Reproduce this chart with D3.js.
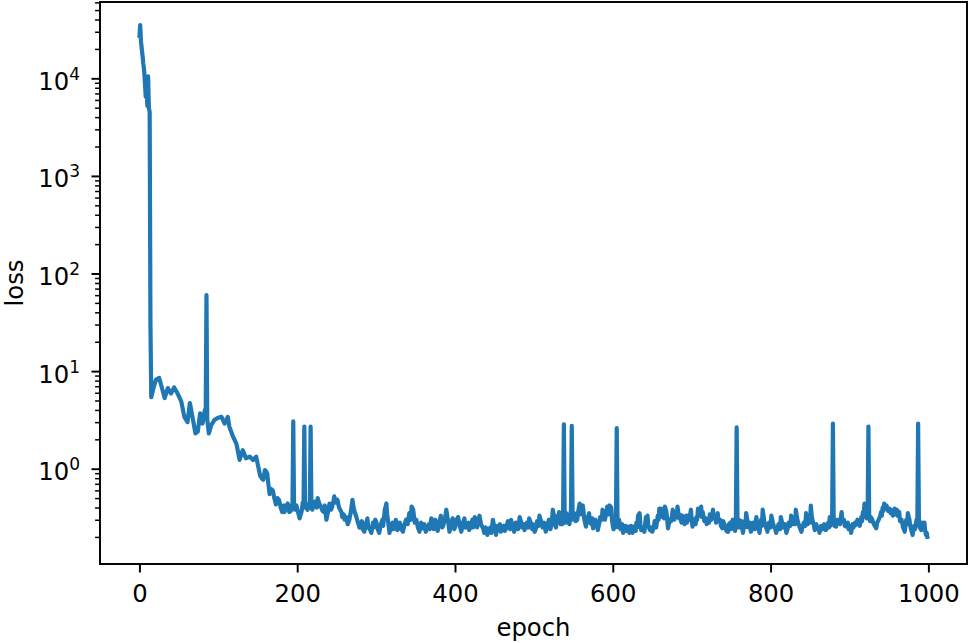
<!DOCTYPE html>
<html>
<head>
<meta charset="utf-8">
<script src="https://cdn.jsdelivr.net/npm/d3@7"></script>
<style>
	body { margin: 0; background: #fff; }
	svg { display: block; font-family: 'DejaVu Sans', sans-serif; }
</style>
</head>
<body>
<div id="divChart"></div>
<script>
'use strict';

const canvasWidth = 969;
const canvasHeight = 643;

// first epochs, loss falls from ~3e4 to ~5
const warmupLoss = [
	[0, 26000], [1, 35000], [2, 24000], [3, 20000], [4, 17000], [5, 14000], [6, 12000], [7, 9000],
	[8, 6500], [9, 10000], [10, 5200], [11, 10500], [12, 5000], [13, 4500], [14, 30], [15, 5.4]
];

// slow decay, with one big spike at epoch 85
const decayLoss = [
	[18, 6.8], [21, 8.2], [25, 8.5], [28, 7.0], [32, 5.3], [36, 6.7], [40, 5.9], [44, 6.8], [48, 6.0], [53, 4.9],
	[57, 3.4], [61, 3.0], [64, 4.7], [68, 3.15], [71, 2.3], [74, 2.4], [77, 3.7], [80, 2.9], [83, 4.0], [84, 3.5],
	[85, 60], [86, 3.2], [88, 2.3], [91, 2.8], [95, 3.15], [99, 3.3], [104, 3.4], [108, 2.9], [112, 3.4], [114, 2.7],
	[118, 2.2], [123, 1.8], [127, 1.23], [131, 1.55], [135, 1.28], [140, 1.33], [144, 1.23], [148, 1.33], [152, 0.93], [153, 0.85],
	[155, 0.8], [157, 0.77], [159, 0.97], [161, 0.93], [162, 0.9], [163, 0.75], [165, 0.55], [167, 0.62], [169, 0.6], [171, 0.5],
	[173, 0.43], [175, 0.5], [177, 0.48], [179, 0.4], [181, 0.36], [183, 0.42], [184, 0.36], [186, 0.41], [188, 0.44], [190, 0.36],
	[192, 0.37], [193, 0.42], [194, 0.4], [195, 3.05], [196, 0.42], [197, 0.38], [199, 0.42], [201, 0.36], [203, 0.31], [205, 0.35],
	[206, 0.38], [207, 0.45], [208, 0.4], [209, 2.7], [210, 0.45], [211, 0.4], [213, 0.38], [215, 0.44], [216, 0.4], [217, 2.7],
	[218, 0.42], [219, 0.38], [220, 0.4], [222, 0.46], [223, 0.45], [225, 0.4], [226, 0.5], [228, 0.44], [230, 0.41], [232, 0.37],
	[234, 0.36], [235, 0.42], [237, 0.30], [239, 0.36], [241, 0.44], [243, 0.38], [244, 0.4], [246, 0.47], [247, 0.52], [249, 0.45],
	[251, 0.48], [253, 0.4], [256, 0.36], [257, 0.32], [259, 0.34], [260, 0.3], [262, 0.32], [264, 0.27], [266, 0.30], [268, 0.36],
	[270, 0.48], [272, 0.38], [275, 0.32], [277, 0.28], [279, 0.25]
];

// noisy plateau around 0.2-0.4 with short spikes
const plateauLoss = [
	[280, 0.26], [282, 0.29], [283, 0.24], [285, 0.226], [287, 0.27], [289, 0.31], [290, 0.25], [292, 0.24], [294, 0.22], [296, 0.28],
	[297, 0.25], [299, 0.3], [300, 0.29], [302, 0.24], [304, 0.22], [306, 0.27], [308, 0.3], [309, 0.26], [311, 0.38], [313, 0.44],
	[314, 0.34], [315, 0.3], [317, 0.22], [319, 0.26], [321, 0.28], [322, 0.24], [324, 0.25], [325, 0.3], [327, 0.235], [329, 0.27],
	[330, 0.28], [332, 0.24], [334, 0.226], [336, 0.27], [338, 0.30], [340, 0.27], [342, 0.35], [344, 0.3], [345, 0.41], [347, 0.38],
	[349, 0.28], [351, 0.30], [353, 0.25], [355, 0.226], [357, 0.28], [359, 0.245], [361, 0.27], [363, 0.226], [365, 0.25], [367, 0.27],
	[368, 0.24], [370, 0.31], [372, 0.27], [373, 0.24], [375, 0.3], [376, 0.29], [378, 0.23], [379, 0.25], [381, 0.3], [382, 0.33],
	[384, 0.25], [385, 0.26], [387, 0.3], [389, 0.38], [391, 0.3], [393, 0.226], [395, 0.27], [397, 0.31], [399, 0.24], [400, 0.25],
	[402, 0.3], [404, 0.32], [406, 0.26], [408, 0.226], [410, 0.28], [412, 0.31], [413, 0.25], [415, 0.25], [417, 0.28], [418, 0.235],
	[420, 0.26], [422, 0.3], [423, 0.25], [425, 0.32], [427, 0.28], [428, 0.25], [430, 0.3], [431, 0.33], [433, 0.27], [434, 0.26],
	[436, 0.24], [437, 0.22], [439, 0.25], [441, 0.21], [443, 0.24], [445, 0.25], [446, 0.22], [448, 0.30], [450, 0.25], [452, 0.21],
	[454, 0.26], [455, 0.24], [457, 0.27], [458, 0.226], [460, 0.25], [462, 0.26], [463, 0.23], [465, 0.245], [467, 0.29], [468, 0.27],
	[470, 0.24], [471, 0.30], [473, 0.26], [475, 0.226], [477, 0.28], [478, 0.27], [480, 0.24], [482, 0.32], [484, 0.28], [485, 0.25],
	[487, 0.27], [488, 0.235], [490, 0.26], [491, 0.28], [493, 0.25], [494, 0.31], [496, 0.28], [498, 0.24], [499, 0.27], [501, 0.226],
	[503, 0.25], [504, 0.29], [506, 0.26], [507, 0.33], [509, 0.29], [511, 0.25], [513, 0.28], [515, 0.226], [517, 0.26], [519, 0.3],
	[520, 0.26], [521, 0.24], [523, 0.3], [524, 0.38], [525, 0.34], [526, 0.3], [527, 0.26], [528, 0.25], [529, 0.29], [530, 0.33],
	[531, 0.29], [532, 0.36], [534, 0.27], [535, 0.3], [536, 0.27], [537, 0.32], [538, 2.85], [539, 0.33], [540, 0.28], [541, 0.35],
	[543, 0.28], [544, 0.3], [545, 0.27], [546, 0.33], [547, 0.38], [548, 2.75], [549, 0.36], [550, 0.3], [551, 0.35], [553, 0.29],
	[555, 0.3], [556, 0.36], [558, 0.44], [560, 0.34], [562, 0.42], [564, 0.3], [566, 0.255], [567, 0.32], [568, 0.3], [570, 0.35],
	[571, 0.28], [573, 0.27], [574, 0.31], [575, 0.245], [577, 0.28], [578, 0.3], [580, 0.26], [581, 0.235], [583, 0.28], [584, 0.32],
	[586, 0.3], [587, 0.38], [589, 0.33], [590, 0.3], [592, 0.36], [593, 0.41], [595, 0.34], [596, 0.42], [598, 0.4], [599, 0.3],
	[600, 0.26], [601, 0.24], [602, 0.28], [603, 0.25], [604, 0.3], [605, 2.6], [606, 0.28], [607, 0.25], [608, 0.3], [609, 0.26],
	[610, 0.24], [612, 0.27], [613, 0.22], [615, 0.24], [616, 0.26], [618, 0.23], [619, 0.255], [620, 0.24], [621, 0.22], [623, 0.26],
	[625, 0.22], [627, 0.24], [628, 0.26], [629, 0.23], [630, 0.28], [631, 0.25], [632, 0.33], [634, 0.35], [635, 0.27], [636, 0.235],
	[638, 0.25], [640, 0.226], [641, 0.27], [642, 0.32], [643, 0.27], [644, 0.33], [645, 0.26], [647, 0.235], [649, 0.25], [650, 0.226],
	[652, 0.25], [653, 0.29], [655, 0.25], [657, 0.33], [658, 0.3], [659, 0.39], [660, 0.33], [661, 0.39], [663, 0.32], [664, 0.38],
	[665, 0.31], [666, 0.41], [668, 0.36], [669, 0.3], [670, 0.245], [672, 0.3], [674, 0.29], [675, 0.33], [676, 0.38], [678, 0.3],
	[679, 0.35], [681, 0.32], [682, 0.41], [684, 0.31], [685, 0.34], [687, 0.28], [688, 0.33], [689, 0.30], [691, 0.27], [693, 0.33],
	[694, 0.28], [695, 0.33], [697, 0.3], [699, 0.38], [700, 0.3], [701, 0.255], [702, 0.29], [703, 0.3], [705, 0.27], [706, 0.32],
	[707, 0.3], [708, 0.39], [710, 0.33], [712, 0.41], [713, 0.32], [714, 0.36], [716, 0.29], [718, 0.31], [719, 0.27], [720, 0.30],
	[722, 0.28], [723, 0.34], [725, 0.3], [727, 0.38], [728, 0.31], [730, 0.33], [731, 0.28], [733, 0.35], [734, 0.29], [736, 0.3],
	[737, 0.26], [739, 0.245], [740, 0.29], [742, 0.26], [744, 0.23], [746, 0.226], [747, 0.27], [749, 0.28], [750, 0.24], [752, 0.30],
	[753, 0.25], [754, 0.26], [755, 0.23], [756, 0.3], [757, 2.65], [758, 0.32], [759, 0.25], [760, 0.30], [761, 0.26], [762, 0.25],
	[763, 0.29], [765, 0.22], [766, 0.26], [767, 0.29], [768, 0.25], [769, 0.35], [771, 0.28], [772, 0.25], [774, 0.28], [775, 0.226],
	[777, 0.25], [778, 0.28], [780, 0.24], [782, 0.32], [783, 0.27], [784, 0.26], [785, 0.24], [786, 0.22], [787, 0.27], [788, 0.3],
	[789, 0.26], [790, 0.38], [792, 0.29], [793, 0.27], [795, 0.24], [796, 0.226], [797, 0.27], [798, 0.28], [800, 0.25], [801, 0.33],
	[803, 0.28], [804, 0.26], [806, 0.24], [807, 0.22], [809, 0.25], [810, 0.27], [812, 0.24], [813, 0.32], [815, 0.27], [816, 0.25],
	[818, 0.27], [820, 0.22], [822, 0.25], [823, 0.28], [825, 0.26], [826, 0.33], [828, 0.27], [829, 0.3], [831, 0.27], [832, 0.38],
	[834, 0.3], [835, 0.28], [837, 0.25], [839, 0.226], [841, 0.26], [842, 0.28], [844, 0.26], [845, 0.35], [847, 0.27], [848, 0.3],
	[850, 0.28], [851, 0.42], [852, 0.34], [853, 0.3], [855, 0.26], [856, 0.235], [858, 0.27], [859, 0.25], [861, 0.24], [862, 0.22],
	[864, 0.26], [866, 0.24], [868, 0.27], [870, 0.235], [872, 0.25], [873, 0.28], [874, 0.25], [875, 0.32], [876, 0.26], [877, 0.28],
	[878, 0.3], [879, 2.9], [880, 0.3], [881, 0.26], [883, 0.255], [884, 0.3], [886, 0.3], [888, 0.27], [890, 0.36], [891, 0.3],
	[893, 0.3], [894, 0.26], [896, 0.255], [898, 0.28], [899, 0.24], [901, 0.26], [902, 0.22], [904, 0.27], [905, 0.25], [907, 0.28],
	[908, 0.265], [910, 0.3], [911, 0.29], [913, 0.26], [915, 0.32], [916, 0.29], [917, 0.36], [918, 0.32], [919, 0.44], [920, 0.38],
	[921, 0.35], [922, 0.31], [923, 0.33], [924, 2.7], [925, 0.32], [926, 0.29], [927, 0.32], [929, 0.3], [930, 0.28], [932, 0.26],
	[934, 0.245], [935, 0.28], [937, 0.3], [939, 0.33], [940, 0.36], [941, 0.33], [942, 0.4], [943, 0.37], [944, 0.44], [946, 0.39],
	[947, 0.42], [949, 0.37], [951, 0.39], [952, 0.35], [954, 0.37], [955, 0.33], [957, 0.39], [958, 0.34], [960, 0.38], [961, 0.33],
	[963, 0.36], [964, 0.29], [966, 0.3], [968, 0.25], [970, 0.226], [971, 0.26], [972, 0.3], [973, 0.27], [974, 0.35], [976, 0.3],
	[977, 0.26], [978, 0.24], [980, 0.21], [982, 0.26], [983, 0.24], [984, 0.27], [985, 0.3], [986, 0.28], [987, 2.9], [988, 0.3],
	[989, 0.25], [991, 0.235], [992, 0.28], [993, 0.26], [994, 0.24], [995, 0.28], [996, 0.23], [997, 0.21], [998, 0.22], [999, 0.19]
];

const xTicks = [0, 200, 400, 600, 800, 1000];
const yMajorTicks = [1, 10, 100, 1000, 10000];
const xDomain = [-49.95, 1048.95];
const yDomain = [0.1056, 60500];

const margin = {top: 2, right: 2, bottom: 79, left: 100};
const plotWidth = canvasWidth - margin.left - margin.right;
const plotHeight = canvasHeight - margin.top - margin.bottom;
const fontSize = 24.3;
const lineColor = '#1f77b4';

const lossData = warmupLoss.concat(decayLoss, plateauLoss);

const svg = d3.select('#divChart')
	.append('svg')
	.attr('width', canvasWidth)
	.attr('height', canvasHeight);

const plot = svg.append('g')
	.attr('transform', `translate(${margin.left},${margin.top})`);

const x = d3.scaleLinear()
	.domain(xDomain)
	.range([0, plotWidth]);
const y = d3.scaleLog()
	.domain(yDomain)
	.range([plotHeight, 0]);

// minor ticks at 2..9 of every decade inside the domain
const yMinorTicks = [];
for (let decade = 0.1; decade <= 10000; decade *= 10) {
	for (let k = 2; k <= 9; k++) {
		const v = +(decade * k).toPrecision(3);
		if (v >= yDomain[0] && v <= yDomain[1]) {
			yMinorTicks.push(v);
		}
	}
}

const line = d3.line()
	.x(d => x(d[0]))
	.y(d => y(d[1]));

plot.append('path')
	.datum(lossData)
	.attr('d', line)
	.style('fill', 'none')
	.style('stroke', lineColor)
	.style('stroke-width', 4.2)
	.style('stroke-linejoin', 'round');

const xAxis = plot.append('g')
	.attr('transform', `translate(0,${plotHeight})`)
	.call(d3.axisBottom(x).tickValues(xTicks).tickSize(8.5).tickPadding(12.5).tickFormat(d3.format('d')));

const yAxisMinor = plot.append('g')
	.call(d3.axisLeft(y).tickValues(yMinorTicks).tickSize(4.9).tickFormat(''));

const yAxis = plot.append('g')
	.call(d3.axisLeft(y).tickValues(yMajorTicks).tickSize(8.5).tickPadding(20));

for (const axis of [xAxis, yAxis, yAxisMinor]) {
	axis.select('.domain').remove();
	axis.selectAll('.tick line').style('stroke', '#000').style('stroke-width', 1.95);
	axis.selectAll('.tick text')
		.style('font-family', "'DejaVu Sans', sans-serif")
		.style('font-size', fontSize + 'px')
		.style('fill', '#000');
}
yAxisMinor.selectAll('.tick line').style('stroke-width', 1.5);

// y labels as 10 with a superscript exponent
yAxis.selectAll('.tick text')
	.attr('dy', null)
	.attr('y', 11)
	.attr('x', -20)
	.text('')
	.each(function (d) {
		const text = d3.select(this);
		text.append('tspan').text('10');
		text.append('tspan')
			.attr('dy', -10)
			.style('font-size', '17px')
			.text(Math.round(Math.log10(d)));
	});

plot.append('rect')
	.attr('width', plotWidth)
	.attr('height', plotHeight)
	.style('fill', 'none')
	.style('stroke', '#000')
	.style('stroke-width', 1.95);

svg.append('text')
	.attr('x', margin.left + plotWidth / 2)
	.attr('y', 636)
	.attr('text-anchor', 'middle')
	.style('font-size', fontSize + 'px')
	.text('epoch');

svg.append('text')
	.attr('transform', `translate(23,${margin.top + plotHeight / 2}) rotate(-90)`)
	.attr('text-anchor', 'middle')
	.style('font-size', fontSize + 'px')
	.text('loss');
</script>
</body>
</html>
